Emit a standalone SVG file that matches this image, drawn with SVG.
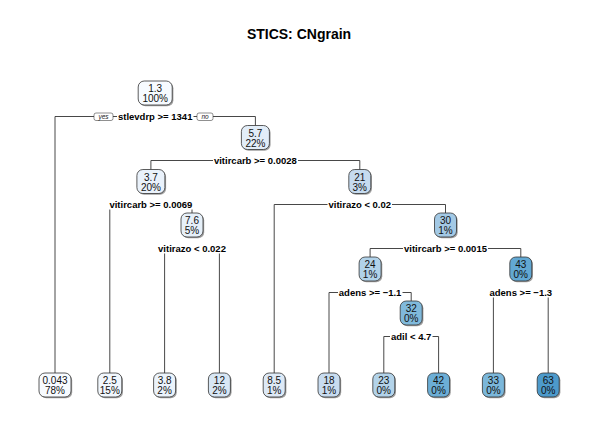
<svg xmlns="http://www.w3.org/2000/svg" width="598" height="426" viewBox="0 0 598 426">
<style>
.bg{fill:#ffffff}
.title{font-family:"Liberation Sans",Arial,sans-serif;font-size:14px;font-weight:bold;fill:#000;text-anchor:middle}
.conn path{fill:none;stroke:#333;stroke-width:0.9}
.box{stroke:#333;stroke-width:0.8}
.shadow{fill:#a0a0a0}
.nt{font-family:"Liberation Sans",Arial,sans-serif;font-size:10px;fill:#111;text-anchor:middle}
.lbl{font-family:"Liberation Sans",Arial,sans-serif;font-size:9.5px;font-weight:bold;fill:#000;text-anchor:middle}
.lbg{fill:#fff}
.yn{fill:#fff;stroke:#444;stroke-width:0.6}
.ynt{font-family:"Liberation Sans",Arial,sans-serif;font-size:6.5px;font-style:italic;fill:#222;text-anchor:middle}
</style>
<rect class="bg" x="0" y="0" width="598" height="426"/>
<text class="title" x="299" y="38.5">STICS: CNgrain</text>
<g id="connectors" class="conn">
<path d="M55,373 V116.5 H255.4 V125.5"/>
<path d="M150.9,169.5 V160.5 H359.8 V169.5"/>
<path d="M109.8,373 V204.5 H192 V213"/>
<path d="M164.6,373 V248.5 H219.4 V373"/>
<path d="M274.2,373 V204.5 H445.5 V213"/>
<path d="M370.1,257 V248.5 H520.8 V257"/>
<path d="M329,373 V292.5 H411.2 V301"/>
<path d="M383.8,373 V336.5 H438.6 V373"/>
<path d="M493.4,373 V292.5 H548.2 V373"/>
</g>
<g id="n1">
<rect class="shadow" x="139.4" y="82.2" width="34" height="24" rx="6"/>
<rect class="box" x="138.2" y="81" width="34" height="24" rx="6" fill="#f7fbff"/>
<text class="nt" x="155.2" y="92">1.3</text><text class="nt" x="155.2" y="102.3">100%</text>
<rect class="lbg" x="117" y="111.5" width="76.5" height="10"/>
<text class="lbl" x="155.2" y="119.9">stlevdrp &gt;= 1341</text>
<rect class="yn" x="94" y="113" width="19" height="7.5" rx="2"/>
<text class="ynt" x="103.5" y="119">yes</text>
<rect class="yn" x="197" y="113" width="16" height="7.5" rx="2"/>
<text class="ynt" x="205" y="119">no</text>
</g>
<g id="n2">
<rect class="shadow" x="242.6" y="126.7" width="28" height="24" rx="6"/>
<rect class="box" x="241.4" y="125.5" width="28" height="24" rx="6" fill="#e2edf8"/>
<text class="nt" x="255.4" y="136.5">5.7</text><text class="nt" x="255.4" y="146.8">22%</text>
<rect class="lbg" x="213" y="155.5" width="85" height="10"/>
<text class="lbl" x="255.4" y="163.9">vitircarb &gt;= 0.0028</text>
</g>
<g id="n3">
<rect class="shadow" x="138.1" y="170.7" width="28" height="24" rx="6"/>
<rect class="box" x="136.9" y="169.5" width="28" height="24" rx="6" fill="#eaf2fb"/>
<text class="nt" x="150.9" y="180.5">3.7</text><text class="nt" x="150.9" y="190.8">20%</text>
<rect class="lbg" x="108.5" y="199.5" width="85" height="10"/>
<text class="lbl" x="150.9" y="207.9">vitircarb &gt;= 0.0069</text>
</g>
<g id="n4">
<rect class="shadow" x="350" y="170.7" width="22" height="24" rx="6"/>
<rect class="box" x="348.8" y="169.5" width="22" height="24" rx="6" fill="#c6dbef"/>
<text class="nt" x="359.8" y="180.5">21</text><text class="nt" x="359.8" y="190.8">3%</text>
<rect class="lbg" x="327.5" y="199.5" width="64.5" height="10"/>
<text class="lbl" x="359.8" y="207.9">vitirazo &lt; 0.02</text>
</g>
<g id="n5">
<rect class="shadow" x="182.2" y="214.2" width="22" height="24" rx="6"/>
<rect class="box" x="181" y="213" width="22" height="24" rx="6" fill="#e6f0f9"/>
<text class="nt" x="192" y="224">7.6</text><text class="nt" x="192" y="234.3">5%</text>
<rect class="lbg" x="157" y="243.5" width="70" height="10"/>
<text class="lbl" x="192" y="251.9">vitirazo &lt; 0.022</text>
</g>
<g id="n6">
<rect class="shadow" x="435.7" y="214.2" width="22" height="24" rx="6"/>
<rect class="box" x="434.5" y="213" width="22" height="24" rx="6" fill="#a3c9e5"/>
<text class="nt" x="445.5" y="224">30</text><text class="nt" x="445.5" y="234.3">1%</text>
<rect class="lbg" x="403" y="243.5" width="85" height="10"/>
<text class="lbl" x="445.5" y="251.9">vitircarb &gt;= 0.0015</text>
</g>
<g id="n7">
<rect class="shadow" x="360.3" y="258.2" width="22" height="24" rx="6"/>
<rect class="box" x="359.1" y="257" width="22" height="24" rx="6" fill="#b1d2e9"/>
<text class="nt" x="370.1" y="268">24</text><text class="nt" x="370.1" y="278.3">1%</text>
<rect class="lbg" x="338" y="287.5" width="64.5" height="10"/>
<text class="lbl" x="370.1" y="295.9">adens &gt;= −1.1</text>
</g>
<g id="n8">
<rect class="shadow" x="511" y="258.2" width="22" height="24" rx="6"/>
<rect class="box" x="509.8" y="257" width="22" height="24" rx="6" fill="#62a8d3"/>
<text class="nt" x="520.8" y="268">43</text><text class="nt" x="520.8" y="278.3">0%</text>
<rect class="lbg" x="488.5" y="287.5" width="64.5" height="10"/>
<text class="lbl" x="520.8" y="295.9">adens &gt;= −1.3</text>
</g>
<g id="n9">
<rect class="shadow" x="401.4" y="302.2" width="22" height="24" rx="6"/>
<rect class="box" x="400.2" y="301" width="22" height="24" rx="6" fill="#80b9db"/>
<text class="nt" x="411.2" y="312">32</text><text class="nt" x="411.2" y="322.3">0%</text>
<rect class="lbg" x="390" y="331.5" width="42.5" height="10"/>
<text class="lbl" x="411.2" y="339.9">adil &lt; 4.7</text>
</g>
<g id="l1">
<rect class="shadow" x="40.2" y="374.2" width="32" height="24" rx="6"/>
<rect class="box" x="39" y="373" width="32" height="24" rx="6" fill="#f7fbff"/>
<text class="nt" x="55" y="384">0.043</text><text class="nt" x="55" y="394.3">78%</text>
</g>
<g id="l2">
<rect class="shadow" x="99" y="374.2" width="24" height="24" rx="6"/>
<rect class="box" x="97.8" y="373" width="24" height="24" rx="6" fill="#f1f7fd"/>
<text class="nt" x="109.8" y="384">2.5</text><text class="nt" x="109.8" y="394.3">15%</text>
</g>
<g id="l3">
<rect class="shadow" x="154.8" y="374.2" width="22" height="24" rx="6"/>
<rect class="box" x="153.6" y="373" width="22" height="24" rx="6" fill="#ebf3fb"/>
<text class="nt" x="164.6" y="384">3.8</text><text class="nt" x="164.6" y="394.3">2%</text>
</g>
<g id="l4">
<rect class="shadow" x="209.6" y="374.2" width="22" height="24" rx="6"/>
<rect class="box" x="208.4" y="373" width="22" height="24" rx="6" fill="#d8e7f5"/>
<text class="nt" x="219.4" y="384">12</text><text class="nt" x="219.4" y="394.3">2%</text>
</g>
<g id="l5">
<rect class="shadow" x="264.4" y="374.2" width="22" height="24" rx="6"/>
<rect class="box" x="263.2" y="373" width="22" height="24" rx="6" fill="#dde9f6"/>
<text class="nt" x="274.2" y="384">8.5</text><text class="nt" x="274.2" y="394.3">1%</text>
</g>
<g id="l6">
<rect class="shadow" x="319.2" y="374.2" width="22" height="24" rx="6"/>
<rect class="box" x="318" y="373" width="22" height="24" rx="6" fill="#c8dcf0"/>
<text class="nt" x="329" y="384">18</text><text class="nt" x="329" y="394.3">1%</text>
</g>
<g id="l7">
<rect class="shadow" x="374" y="374.2" width="22" height="24" rx="6"/>
<rect class="box" x="372.8" y="373" width="22" height="24" rx="6" fill="#b3d3e9"/>
<text class="nt" x="383.8" y="384">23</text><text class="nt" x="383.8" y="394.3">0%</text>
</g>
<g id="l8">
<rect class="shadow" x="428.8" y="374.2" width="22" height="24" rx="6"/>
<rect class="box" x="427.6" y="373" width="22" height="24" rx="6" fill="#6caed6"/>
<text class="nt" x="438.6" y="384">42</text><text class="nt" x="438.6" y="394.3">0%</text>
</g>
<g id="l9">
<rect class="shadow" x="483.6" y="374.2" width="22" height="24" rx="6"/>
<rect class="box" x="482.4" y="373" width="22" height="24" rx="6" fill="#7bb7da"/>
<text class="nt" x="493.4" y="384">33</text><text class="nt" x="493.4" y="394.3">0%</text>
</g>
<g id="l10">
<rect class="shadow" x="538.4" y="374.2" width="22" height="24" rx="6"/>
<rect class="box" x="537.2" y="373" width="22" height="24" rx="6" fill="#4d9acb"/>
<text class="nt" x="548.2" y="384">63</text><text class="nt" x="548.2" y="394.3">0%</text>
</g>
</svg>
